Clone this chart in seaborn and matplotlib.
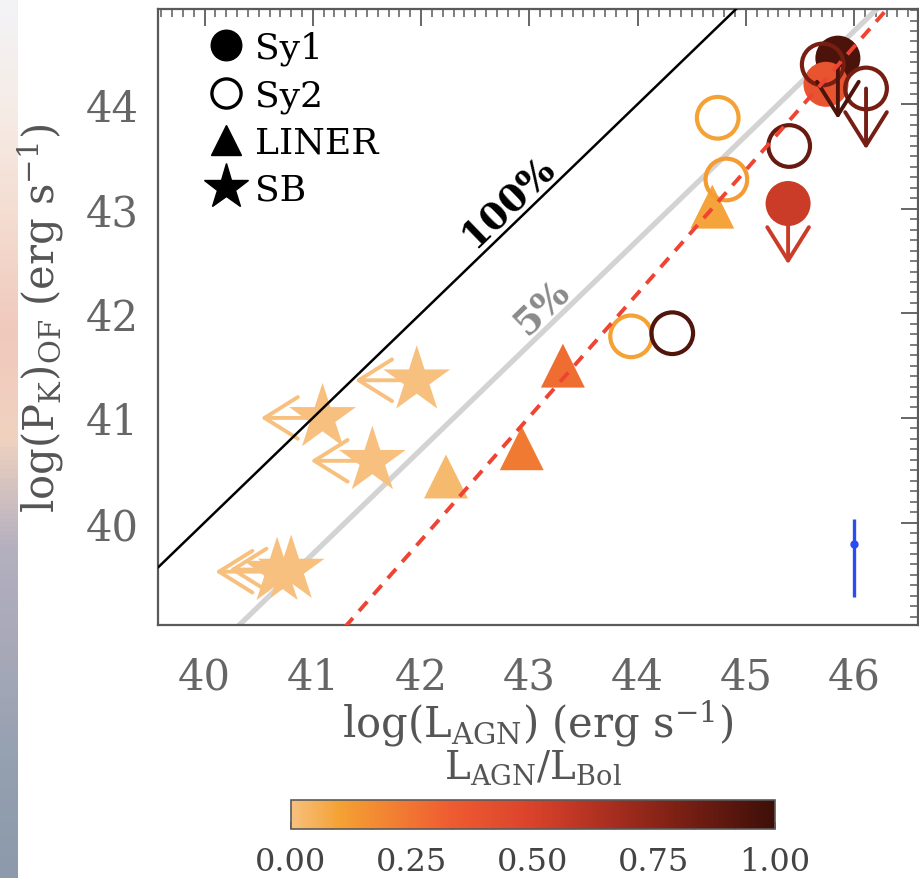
import numpy as np
import matplotlib
matplotlib.use('Agg')
import matplotlib.pyplot as plt
import seaborn as sns
from matplotlib.colors import LinearSegmentedColormap, Normalize
from matplotlib.lines import Line2D
from matplotlib.cm import ScalarMappable

# --- data ---
# SB (stars, upper limits in L_AGN -> left arrows)
sb_x = [41.09, 41.96, 41.55, 40.67, 40.80]
sb_y = [41.00, 41.36, 40.59, 39.53, 39.55]
sb_frac = [0.0, 0.0, 0.0, 0.0, 0.0]

# LINER (triangles)
liner_x = [42.23, 42.93, 43.31, 44.69]
liner_y = [40.44, 40.71, 41.50, 43.02]
liner_frac = [0.02, 0.23, 0.27, 0.09]

# Sy1 (filled circles)
sy1_x = [45.85, 45.74, 45.39]
sy1_y = [44.44, 44.19, 43.05]
sy1_frac = [0.95, 0.38, 0.55]
sy1_uplim = [True, False, True]

# Sy2 (open circles)
sy2_x = [44.74, 44.82, 43.94, 44.32, 45.40, 45.71, 46.11]
sy2_y = [43.87, 43.28, 41.78, 41.81, 43.60, 44.38, 44.15]
sy2_frac = [0.10, 0.12, 0.10, 0.93, 0.87, 0.82, 0.82]
sy2_uplim = [False, False, False, False, False, False, True]

limit_len = 0.58     # arrow length (dex)
sb_limit_len = 0.57

# fit line and reference lines
fit_slope, fit_intercept = 1.18, -9.73
eff_100 = 0.0
eff_5 = np.log10(0.05)

# typical error bar
err_x, err_y = 46.0, 39.79
err_lo, err_hi = 0.50, 0.24

# colour table
cmap_pos = [0.0, 0.10, 0.33, 0.50, 0.65, 0.80, 1.0]
cmap_hex = ['#f7c07e', '#f4a133', '#ef5b31', '#d9422b', '#ab2f20', '#7c2014', '#3d0f08']
cbar_ticks = [0.0, 0.25, 0.50, 0.75, 1.0]

# left screenshot strip colours
strip_hex = ['#f3f3f6', '#f6ece6', '#f4dcd0', '#f1c9bd', '#f0d2bf', '#b4b0bf', '#a6a8b8', '#94a0b0', '#8c9aab']

# --- style ---
sns.set_theme(style='white')
plt.rcParams['font.family'] = ['DejaVu Serif']
plt.rcParams['mathtext.fontset'] = 'dejavuserif'
grey = '#5a5a5a'

cmap = LinearSegmentedColormap.from_list('agn', list(zip(cmap_pos, cmap_hex)))
norm = Normalize(0, 1)

fig = plt.figure(figsize=(9.2, 8.79), dpi=100)
fig.patch.set_facecolor('white')

# background strip on the left edge
sax = fig.add_axes([0, 0, 18 / 920, 1])
strip_cmap = LinearSegmentedColormap.from_list('strip', strip_hex)
sax.imshow(np.linspace(0, 1, 200)[:, None], aspect='auto', cmap=strip_cmap)
sax.axis('off')

ax = fig.add_axes([158 / 920, 1 - 626 / 879, 760 / 920, 616 / 879])
xlim = (39.57, 46.59)
ylim = (39.02, 44.91)
ax.set_xlim(*xlim)
ax.set_ylim(*ylim)

xx = np.array(xlim)
ax.plot(xx, xx + eff_5, color='#d3d3d3', lw=3.8, zorder=1)
ax.plot(xx, xx + eff_100, color='black', lw=1.8, zorder=6)
ax.plot(xx, fit_slope * xx + fit_intercept, color='#ee4433', lw=2.8,
        dashes=(3.2, 2.4), zorder=7)

arrow_style = '->,head_length=0.8,head_width=0.5'

# stars
sns.scatterplot(x=sb_x, y=sb_y, hue=sb_frac, palette=cmap, hue_norm=norm,
                marker='*', s=2550, linewidth=0, legend=False, ax=ax, zorder=3)
for x, y, f in zip(sb_x, sb_y, sb_frac):
    ax.annotate('', xy=(x - sb_limit_len, y), xytext=(x, y),
                arrowprops=dict(arrowstyle=arrow_style, color=cmap(norm(f)), lw=2.8,
                                shrinkA=0, shrinkB=0, mutation_scale=30), zorder=2)

# triangles
sns.scatterplot(x=liner_x, y=liner_y, hue=liner_frac, palette=cmap, hue_norm=norm,
                marker='^', s=1000, linewidth=0, legend=False, ax=ax, zorder=3)

# filled circles
sns.scatterplot(x=sy1_x, y=sy1_y, hue=sy1_frac, palette=cmap, hue_norm=norm,
                marker='o', s=1050, linewidth=0, legend=False, ax=ax, zorder=3)

# open circles
ax.scatter(sy2_x, sy2_y, s=900, facecolors='none',
           edgecolors=[cmap(norm(f)) for f in sy2_frac], linewidths=3, zorder=4)

for xs, ys, fs, lims in [(sy1_x, sy1_y, sy1_frac, sy1_uplim),
                         (sy2_x, sy2_y, sy2_frac, sy2_uplim)]:
    for x, y, f, lim in zip(xs, ys, fs, lims):
        if lim:
            ax.annotate('', xy=(x, y - limit_len), xytext=(x, y),
                        arrowprops=dict(arrowstyle=arrow_style, color=cmap(norm(f)), lw=2.8,
                                        shrinkA=0, shrinkB=0, mutation_scale=30), zorder=5)

# typical error
ax.errorbar([err_x], [err_y], yerr=[[err_lo], [err_hi]], fmt='o', color='#2a4cf2',
            ms=5, elinewidth=2.4, capsize=0, zorder=8)

# line labels
ax.text(42.80, 43.08, '100%', rotation=44, color='black', fontsize=27,
        fontweight='bold', ha='center', va='center', rotation_mode='anchor')
ax.text(43.12, 42.06, '5%', rotation=44, color='#8a8a8a', fontsize=27,
        fontweight='bold', ha='center', va='center', rotation_mode='anchor')

# axes styling
for s in ax.spines.values():
    s.set_color(grey)
    s.set_linewidth(1.6)
ax.set_xticks(np.arange(40, 47))
ax.set_yticks(np.arange(40, 45))
ax.xaxis.set_minor_locator(matplotlib.ticker.MultipleLocator(0.1))
ax.yaxis.set_minor_locator(matplotlib.ticker.MultipleLocator(0.1))
ax.tick_params(which='both', direction='in', top=True, right=True, color=grey,
               labelcolor='#666666', labelsize=30)
ax.tick_params(which='major', length=12, width=1.3)
ax.tick_params(which='minor', length=6, width=1.1)
ax.tick_params(axis='x', pad=22)
ax.tick_params(axis='y', pad=14)
ax.set_xlabel(r'log(L$_{\rm AGN}$) (erg s$^{-1}$)', fontsize=30, color='#555555', labelpad=0)
ax.set_ylabel(r'log(P$_{\rm K}$)$_{\rm OF}$ (erg s$^{-1}$)', fontsize=30, color='#555555',
              labelpad=14)

# legend
handles = [Line2D([], [], ls='none', marker='o', color='black', ms=22),
           Line2D([], [], ls='none', marker='o', mfc='none', mec='black', mew=2.4, ms=21),
           Line2D([], [], ls='none', marker='^', color='black', ms=22),
           Line2D([], [], ls='none', marker='*', color='black', ms=34)]
ax.legend(handles, ['Sy1', 'Sy2', 'LINER', 'SB'], loc='upper left',
          bbox_to_anchor=(0.045, 0.988), frameon=False, fontsize=26,
          handlelength=1.05, handletextpad=0.3, labelspacing=0.36, borderaxespad=0,
          labelcolor='black')

# colour bar
cax = fig.add_axes([291 / 920, 1 - 830 / 879, 484 / 920, 29 / 879])
cb = fig.colorbar(ScalarMappable(norm=norm, cmap=cmap), cax=cax, orientation='horizontal')
cb.set_ticks(cbar_ticks)
cb.ax.xaxis.set_major_formatter(matplotlib.ticker.FormatStrFormatter('%.2f'))
cb.ax.xaxis.set_minor_locator(matplotlib.ticker.MultipleLocator(1 / 12))
cb.ax.tick_params(which='both', direction='in', length=5, color=grey,
                  labelsize=23, labelcolor='#444444', pad=12)
cb.outline.set_edgecolor(grey)
cb.outline.set_linewidth(1.2)
cb.ax.set_title(r'L$_{\rm AGN}$/L$_{\rm Bol}$', fontsize=28, color='#555555', pad=16)

fig.savefig('out.png', dpi=100)
